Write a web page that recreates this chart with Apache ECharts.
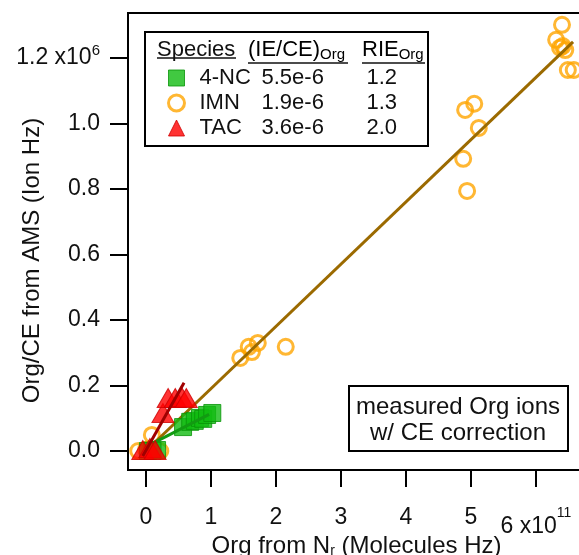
<!DOCTYPE html>
<html><head><meta charset="utf-8">
<script src="https://cdn.jsdelivr.net/npm/echarts@6/dist/echarts.min.js"></script>
<style>html,body{margin:0;padding:0;background:#fff}#c{width:579px;height:555px}</style>
</head><body><div id="c"></div>
<script>
// ---- data (x in units of 1e11 molecules Hz, y in units of 1e6 ion Hz) ----
const speciesNames = ['4-NC', 'IMN', 'TAC'];
const ieceValues = ['5.5e-6', '1.9e-6', '3.6e-6'];
const rieValues = ['1.2', '1.3', '2.0'];

const imnPoints = [[-0.12,0.0],[0.06,0.002],[0.22,0.0],[0.09,0.049],[0.0,0.004],
  [1.45,0.284],[1.58,0.318],[1.63,0.302],[1.72,0.330],[2.15,0.318],
  [4.88,0.892],[4.94,0.794],[5.12,0.986],[4.91,1.041],[5.05,1.060],
  [6.40,1.301],[6.31,1.255],[6.37,1.231],[6.45,1.224],[6.41,1.236],[6.49,1.163],[6.58,1.163]];
const imnFit = [[0.05,0.01],[6.57,1.249]];

const ncPoints = [[0.03,0.0],[0.17,0.003],[0.10,0.001],
  [0.57,0.073],[0.68,0.089],[0.75,0.092],[0.83,0.101],[0.88,0.098],[0.94,0.110],[1.02,0.116]];
const ncFit = [[0.11,0.024],[0.97,0.112]];

const tacPoints = [[-0.05,0.003],[0.06,0.009],[0.14,0.003],
  [0.26,0.116],[0.34,0.162],[0.45,0.162],[0.55,0.165],[0.62,0.162]];
const tacFit = [[-0.05,-0.015],[0.585,0.208]];

const xTicks = [0,1,2,3,4,5,6];
const yTicks = [0,0.2,0.4,0.6,0.8,1.0,1.2];

const FONT = '"Liberation Sans", Arial, sans-serif';
const TXT = '#111';

const chart = echarts.init(document.getElementById('c'), null, {renderer:'canvas'});
chart.setOption({
  animation: false,
  backgroundColor: '#fff',
  grid: {left:128, top:13, width:473, height:457, show:true, borderColor:'#000', borderWidth:2,
    backgroundColor:'transparent', containLabel:false, outerBoundsMode:'none'},
  legend: {
    data: speciesNames,
    orient:'vertical', left:167, top:67, padding:0, z:20,
    itemWidth:16, itemHeight:16, itemGap:3, selectedMode:false,
    itemStyle:{borderWidth:'inherit'},
    formatter: function(name){ const i = speciesNames.indexOf(name);
      return '{n|' + name + '}{v|' + ieceValues[i] + '}{r|' + rieValues[i] + '}'; },
    textStyle: {color:TXT, fontFamily:FONT, fontSize:22,
      rich: {n:{width:62, padding:[0,0,0,10], fontSize:22, lineHeight:22, fontFamily:FONT, color:TXT},
             v:{width:105, fontSize:22, lineHeight:22, fontFamily:FONT, color:TXT},
             r:{fontSize:22, lineHeight:22, fontFamily:FONT, color:TXT}}}
  },
  xAxis: {
    type:'value', min:-0.277, max:7.0,
    name:'Org from N{r|r} (Molecules Hz)', nameLocation:'middle', nameGap:64, nameMoveOverlap:false,
    nameTextStyle:{fontFamily:FONT, fontSize:24, color:TXT, padding:[0,16,0,0],
      rich:{r:{fontSize:14, lineHeight:8, verticalAlign:'bottom', fontFamily:FONT, color:TXT}}},
    axisLine:{onZero:false, lineStyle:{color:'#000', width:2}},
    axisTick:{customValues:xTicks, length:17, lineStyle:{color:'#000', width:2}},
    splitLine:{show:false},
    axisLabel:{customValues:xTicks, margin:36, fontFamily:FONT, fontSize:23, color:TXT,
      formatter: v => v === 6 ? '{m|6 x10}{s|11}' : String(v),
      rich:{m:{fontSize:23, lineHeight:42, fontFamily:FONT, color:TXT},
            s:{fontSize:14, lineHeight:10, verticalAlign:'top', fontFamily:FONT, color:TXT}}}
  },
  yAxis: {
    type:'value', min:-0.058, max:1.337,
    name:'Org/CE from AMS (Ion Hz)', nameLocation:'middle', nameGap:84, nameMoveOverlap:false,
    nameTextStyle:{fontFamily:FONT, fontSize:24, color:TXT, padding:[0,38,0,0]},
    axisLine:{onZero:false, lineStyle:{color:'#000', width:2}},
    axisTick:{customValues:yTicks, length:18, lineStyle:{color:'#000', width:2}},
    splitLine:{show:false},
    axisLabel:{customValues:yTicks, margin:28, fontFamily:FONT, fontSize:23, color:TXT,
      formatter: v => Math.abs(v-1.2) < 1e-9 ? '{m|1.2 x10}{s|6}' : v.toFixed(1),
      rich:{m:{fontSize:23, lineHeight:30, fontFamily:FONT, color:TXT},
            s:{fontSize:15, lineHeight:8, verticalAlign:'top', fontFamily:FONT, color:TXT}}}
  },
  series: [
    {name:'IMN', type:'scatter', data:imnPoints, symbol:'circle', symbolSize:15, z:2,
     itemStyle:{color:'rgba(255,255,255,0)', borderColor:'#ffa500', borderWidth:3}},
    {name:'IMN fit', type:'line', data:imnFit, showSymbol:false, z:3,
     lineStyle:{color:'#9b6a00', width:3}},
    {name:'4-NC', type:'scatter', data:ncPoints, symbol:'rect', symbolSize:17, z:4,
     itemStyle:{color:'#12bb12', borderColor:'#089408', borderWidth:1}},
    {name:'4-NC fit', type:'line', data:ncFit, showSymbol:false, z:5,
     lineStyle:{color:'#129a12', width:3}},
    {name:'TAC', type:'scatter', data:tacPoints, symbol:'triangle', symbolSize:[22,19], z:6,
     itemStyle:{color:'#ff0000', borderColor:'#d00000', borderWidth:1}},
    {name:'TAC fit', type:'line', data:tacFit, showSymbol:false, z:7,
     lineStyle:{color:'#a00000', width:3}}
  ],
  graphic: [
    {type:'rect', shape:{x:145, y:32, width:283, height:114}, style:{fill:'#fff', stroke:'#000', lineWidth:2}, z:10},
    {type:'text', x:157, y:50, z:11, style:{text:'Species', font:'22px ' + FONT, fill:TXT, verticalAlign:'middle'}},
    {type:'text', x:248, y:50, z:11, style:{text:'{m|(IE/CE)}{o|Org}', verticalAlign:'middle',
      rich:{m:{fontSize:22, lineHeight:24, fontFamily:FONT, color:TXT}, o:{fontSize:15, lineHeight:8, verticalAlign:'bottom', fontFamily:FONT, color:TXT}}}},
    {type:'text', x:362, y:50, z:11, style:{text:'{m|RIE}{o|Org}', verticalAlign:'middle',
      rich:{m:{fontSize:22, lineHeight:24, fontFamily:FONT, color:TXT}, o:{fontSize:15, lineHeight:8, verticalAlign:'bottom', fontFamily:FONT, color:TXT}}}},
    {type:'line', shape:{x1:157, y1:58, x2:236, y2:58}, style:{stroke:TXT, lineWidth:1.5}, z:11},
    {type:'line', shape:{x1:248, y1:63, x2:348, y2:63}, style:{stroke:TXT, lineWidth:1.5}, z:11},
    {type:'line', shape:{x1:362, y1:63, x2:425, y2:63}, style:{stroke:TXT, lineWidth:1.5}, z:11},
    {type:'rect', shape:{x:349, y:386, width:219, height:65}, style:{fill:'#fff', stroke:'#000', lineWidth:2}, z:10},
    {type:'text', x:458, y:420, z:11, style:{text:'measured Org ions\nw/ CE correction', font:'24px ' + FONT, lineHeight:26,
      fill:TXT, align:'center', verticalAlign:'middle'}}
  ]
});
</script></body></html>
